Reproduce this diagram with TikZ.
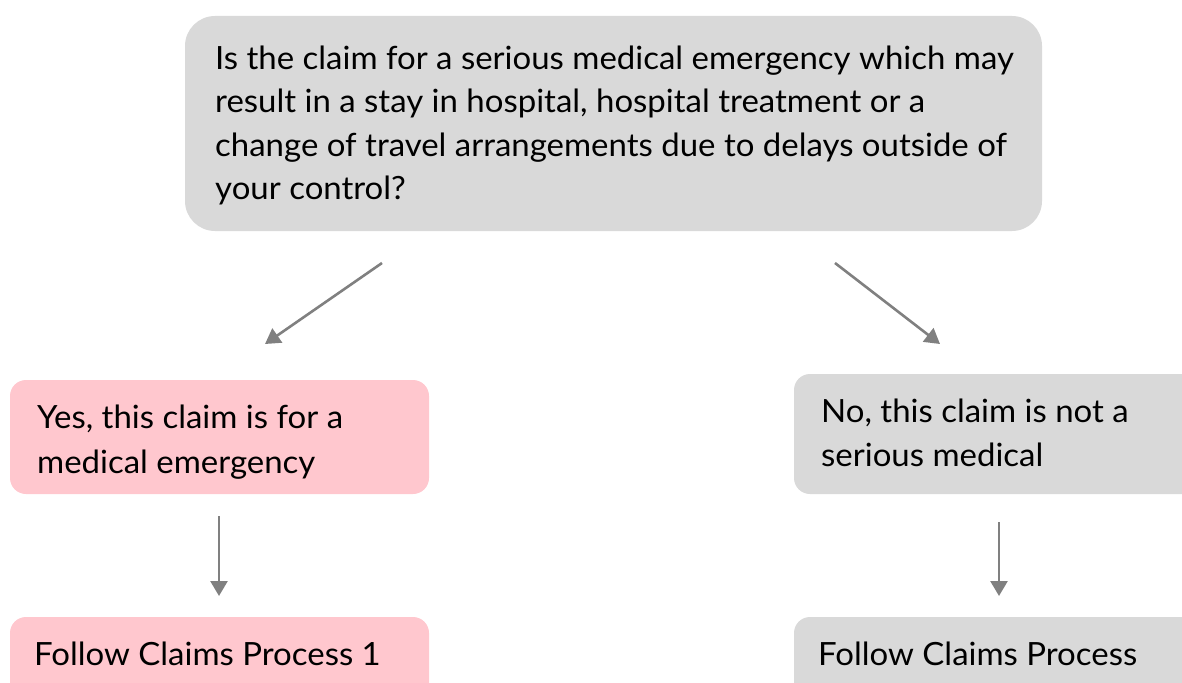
\documentclass[tikz,border=0pt]{standalone}
\usepackage{fontspec}
\setmainfont[FakeStretch=1.03]{Lato}
\usetikzlibrary{arrows.meta}
\definecolor{boxgray}{RGB}{217,217,217}
\definecolor{boxpink}{RGB}{255,199,206}
\definecolor{arrowgray}{RGB}{128,128,128}
\tikzset{
  box/.style={rounded corners=22pt, inner sep=0pt, draw=none},
  grayb/.style={box, fill=boxgray},
  pinkb/.style={box, fill=boxpink},
  txt/.style={anchor=base west, inner sep=0pt, font=\fontsize{32}{43}\selectfont, text=black},
  conn/.style={draw=arrowgray, line width=2.6pt, -{Triangle[length=15pt,width=17pt]}}
}
\begin{document}
\begin{tikzpicture}[x=1pt,y=-1pt]
\useasboundingbox (0,0) rectangle (1182,682);
\clip (0,0) rectangle (1182,682);
% boxes
\node[grayb, minimum width=857pt, minimum height=215pt, rounded corners=30pt] (qbox) at (613.5,123.5) {};
\node[pinkb, minimum width=419pt, minimum height=114pt, rounded corners=16pt] (yesbox) at (219.5,437) {};
\node[grayb, minimum width=430pt, minimum height=120pt, rounded corners=16pt] (nobox) at (1009,434) {};
\node[pinkb, minimum width=419pt, minimum height=110pt, rounded corners=16pt] (p1box) at (219.5,672) {};
\node[grayb, minimum width=430pt, minimum height=110pt, rounded corners=16pt] (p2box) at (1009,672) {};
% texts
\node[txt] (q1) at (215,70) {Is the claim for a serious medical emergency which may};
\node[txt] (q2) at (215,113) {result in a stay in hospital, hospital treatment or a};
\node[txt] (q3) at (215,156) {change of travel arrangements due to delays outside of};
\node[txt] (q4) at (215,199) {your control?};
\node[txt] (y1) at (37,428) {Yes, this claim is for a};
\node[txt] (y2) at (37,473) {medical emergency};
\node[txt] (n1) at (821,422) {No, this claim is not a};
\node[txt] (n2) at (821,466) {serious medical};
\node[txt] (f1) at (34,665) {Follow Claims Process 1};
\node[txt] (f2) at (818,665) {Follow Claims Process};
% connector ends
\coordinate (a1s) at (382,263);
\coordinate (a1e) at (265,344);
\coordinate (a2s) at (835,263);
\coordinate (a2e) at (940,344);
\coordinate (a3s) at (219,516);
\coordinate (a3e) at (219,596);
\coordinate (a4s) at (999,522);
\coordinate (a4e) at (999,596);
\draw[conn] (a1s) -- (a1e);
\draw[conn] (a2s) -- (a2e);
\draw[conn] (a3s) -- (a3e);
\draw[conn] (a4s) -- (a4e);
\end{tikzpicture}
\end{document}
